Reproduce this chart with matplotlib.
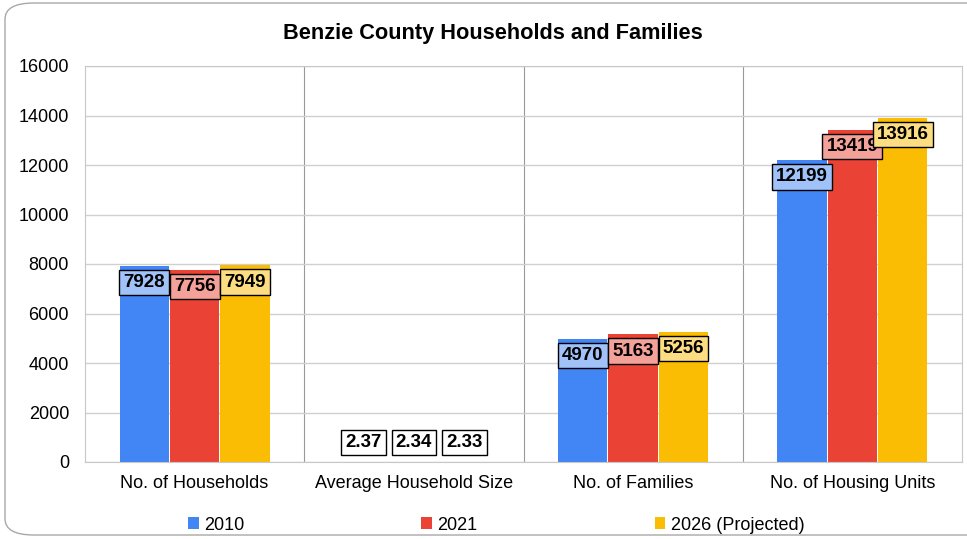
import matplotlib.pyplot as plt
import matplotlib
from matplotlib.patches import FancyBboxPatch
import numpy as np

matplotlib.rcParams['font.family'] = ['Liberation Sans', 'DejaVu Sans']
matplotlib.rcParams['font.size'] = 13

categories = ['No. of Households', 'Average Household Size', 'No. of Families', 'No. of Housing Units']
series_names = ['2010', '2021', '2026 (Projected)']
v2010 = [7928, 2.37, 4970, 12199]
v2021 = [7756, 2.34, 5163, 13419]
v2026 = [7949, 2.33, 5256, 13916]
label_text_2010 = ['7928', '2.37', '4970', '12199']
label_text_2021 = ['7756', '2.34', '5163', '13419']
label_text_2026 = ['7949', '2.33', '5256', '13916']

colors = ['#4285f4', '#ea4335', '#fbbc04']
light = ['#a0c2f9', '#f4a19a', '#fddd81']

fig = plt.figure(figsize=(9.67, 5.39), dpi=100)
ax = fig.add_axes([85/967, 1 - 462/539, (962-85)/967, (462-66)/539])

# rounded frame around the chart
frame = FancyBboxPatch((5/967, 4/539), 1.05, 532/539,
                       boxstyle='round,pad=0,rounding_size=0.03',
                       transform=fig.transFigure, facecolor='none',
                       edgecolor='#a8a8a8', linewidth=1.0, clip_on=False)
fig.patches.append(frame)

x = np.arange(len(categories))
w = 0.225
offs = [-w - 0.005, 0, w + 0.005]
all_vals = [v2010, v2021, v2026]
all_labels = [label_text_2010, label_text_2021, label_text_2026]

for i in range(3):
    ax.bar(x + offs[i], all_vals[i], width=w, color=colors[i], label=series_names[i], zorder=2)
    for j in range(len(categories)):
        val = all_vals[i][j]
        small = val < 100
        y = 780 if small else val - 680
        fc = 'white' if small else light[i]
        ax.text(x[j] + offs[i], y, all_labels[i][j], ha='center', va='center',
                fontsize=13.5, fontweight='bold', zorder=4,
                bbox=dict(boxstyle='square,pad=0.22', facecolor=fc, edgecolor='black', linewidth=1))

ax.set_xlim(-0.5, 3.5)
ax.set_ylim(0, 16000)
ax.set_yticks(range(0, 16001, 2000))
ax.set_xticks(x)
ax.set_xticklabels(categories)
ax.tick_params(length=0, pad=9)
ax.tick_params(axis='y', pad=11.5)
ax.yaxis.grid(True, color='#d0d0d0', linewidth=1, zorder=0)
for sep in [0.5, 1.5, 2.5]:
    ax.axvline(sep, color='#999999', linewidth=0.8, zorder=1)
for s in ax.spines.values():
    s.set_color('#c8c8c8')

fig.text(493/967, 1 - 33/539, 'Benzie County Households and Families', ha='center', va='center',
         fontsize=15.7, fontweight='bold')

fig.legend(loc='center', bbox_to_anchor=(0.513, 1 - 525/539), ncol=3, frameon=False,
           handlelength=0.6, handleheight=0.6, handletextpad=0.3, columnspacing=9.8,
           fontsize=13)

fig.savefig('out.png', dpi=100)
